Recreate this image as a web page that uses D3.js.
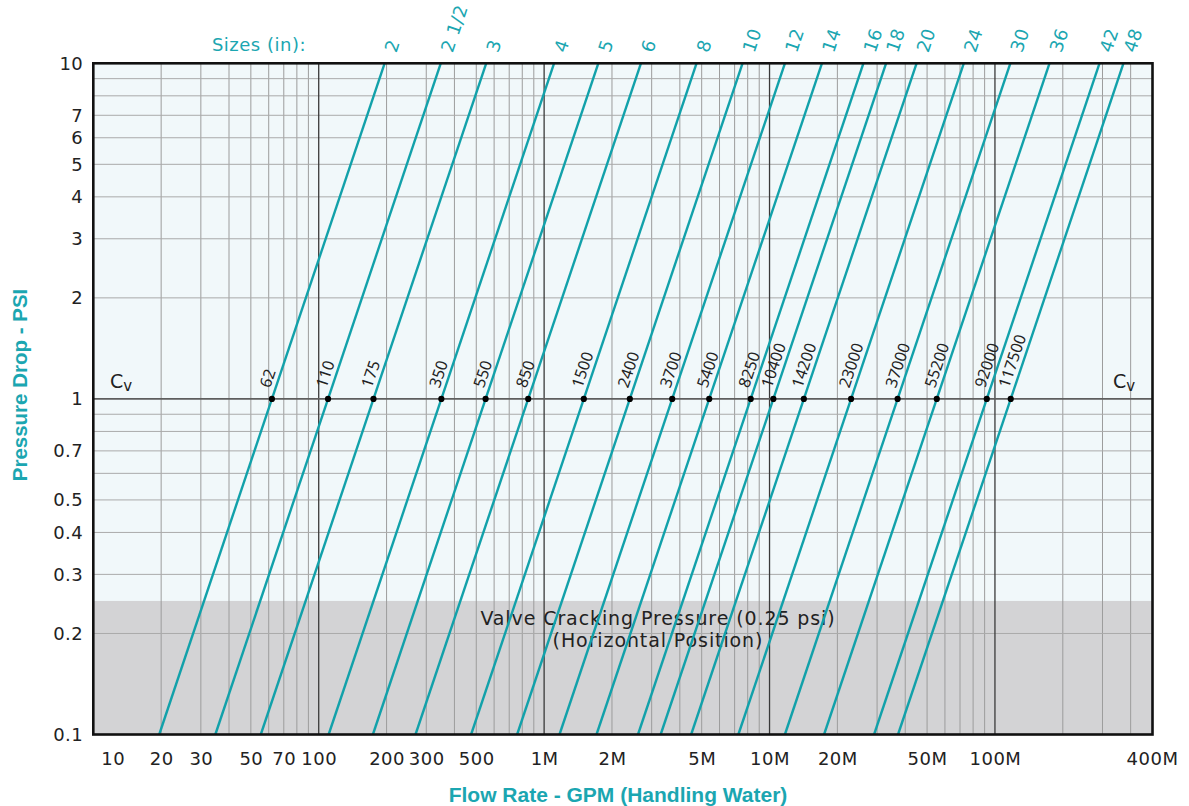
<!DOCTYPE html>
<html>
<head>
<meta charset="utf-8">
<script src="https://cdn.jsdelivr.net/npm/d3@7"></script>
<style>
  html, body { margin: 0; padding: 0; background: #ffffff; }
  svg { display: block; }
</style>
</head>
<body>
<svg id="chart" width="1189" height="806"></svg>
<script>
// Valve sizes (inches) and their flow coefficients (Cv)
const sizes = ["2", "2 1/2", "3", "4", "5", "6", "8", "10", "12", "14", "16", "18", "20", "24", "30", "36", "42", "48"];
const cvValues = [62, 110, 175, 350, 550, 850, 1500, 2400, 3700, 5400, 8250, 10400, 14200, 23000, 37000, 55200, 92000, 117500];

// Axis ticks
const xTickValues = [10, 20, 30, 50, 70, 100, 200, 300, 500, 1000, 2000, 5000, 10000, 20000, 50000, 100000, 400000];
const xTickLabels = ["10", "20", "30", "50", "70", "100", "200", "300", "500", "1M", "2M", "5M", "10M", "20M", "50M", "100M", "400M"];
const yTickValues = [0.1, 0.2, 0.3, 0.4, 0.5, 0.7, 1, 2, 3, 4, 5, 6, 7, 10];

// Flow / pressure ranges
const flowDomain = [10, 500000];
const pressureDomain = [0.1, 10];
const crackingPressure = 0.25;
const cvPressure = 1;

const TEAL = "#12a1aa";
const TEXT_TEAL = "#1ba6b1";
const LABEL_FONT = "'DejaVu Sans', sans-serif";

const svg = d3.select("#chart");
const plotLeft = 93.3, plotRight = 1152.5, plotTop = 63.3, plotBottom = 734.5;

const x = d3.scaleLog().domain(flowDomain).range([plotLeft, plotRight]);
const y = d3.scaleLog().domain(pressureDomain).range([plotBottom, plotTop]);

// Plot background and cracking-pressure band
svg.append("rect")
  .attr("x", plotLeft).attr("y", plotTop)
  .attr("width", plotRight - plotLeft).attr("height", plotBottom - plotTop)
  .attr("fill", "#f1f8fa");

svg.append("rect")
  .attr("x", plotLeft).attr("y", y(crackingPressure))
  .attr("width", plotRight - plotLeft).attr("height", y(pressureDomain[0]) - y(crackingPressure))
  .attr("fill", "#d3d3d5");

// Grid lines
const grid = svg.append("g");
const vMinor = [], vMajor = [];
for (let p = 10; p < flowDomain[1]; p *= 10) {
  for (let m = 1; m <= 9; m++) {
    const v = p * m;
    if (v <= flowDomain[0] || v >= flowDomain[1]) continue;
    (m === 1 ? vMajor : vMinor).push(v);
  }
}
grid.selectAll(".vminor").data(vMinor).join("line")
  .attr("x1", d => x(d)).attr("x2", d => x(d))
  .attr("y1", plotTop).attr("y2", plotBottom)
  .attr("stroke", "#9c9c9c").attr("stroke-width", 1);

const hMinor = [];
for (const p of [0.1, 1]) {
  for (let m = 2; m <= 9; m++) hMinor.push(p * m);
}
grid.selectAll(".hminor").data(hMinor).join("line")
  .attr("x1", plotLeft).attr("x2", plotRight)
  .attr("y1", d => y(d)).attr("y2", d => y(d))
  .attr("stroke", "#aaaaaa").attr("stroke-width", 1);

grid.selectAll(".vmajor").data(vMajor).join("line")
  .attr("x1", d => x(d)).attr("x2", d => x(d))
  .attr("y1", plotTop).attr("y2", plotBottom)
  .attr("stroke", "#3a3a3a").attr("stroke-width", 1.3);

grid.append("line")
  .attr("x1", plotLeft).attr("x2", plotRight)
  .attr("y1", y(cvPressure)).attr("y2", y(cvPressure))
  .attr("stroke", "#5e5e5e").attr("stroke-width", 1.6);

// Cracking pressure caption
const caption = svg.append("g")
  .attr("font-family", LABEL_FONT).attr("font-size", 19)
  .attr("letter-spacing", "0.9px").attr("fill", "#222")
  .attr("text-anchor", "middle");
caption.append("text").attr("x", 658).attr("y", 625)
  .text(`Valve Cracking Pressure (${crackingPressure} psi)`);
caption.append("text").attr("x", 658).attr("y", 647)
  .text("(Horizontal Position)");

// Pressure drop lines: P = (Q / Cv)^2
const line = d3.line().x(d => x(d[0])).y(d => y(d[1]));
const series = cvValues.map((cv, i) => ({
  cv, size: sizes[i],
  pts: pressureDomain.map(p => [cv * Math.sqrt(p), p])
}));

svg.append("g").selectAll("path").data(series).join("path")
  .attr("d", d => line(d.pts))
  .attr("fill", "none")
  .attr("stroke", TEAL)
  .attr("stroke-width", 2.4);

// Angle of the lines on screen, used to tilt the labels
const dxs = x(cvValues[0] * Math.sqrt(10)) - x(cvValues[0]);
const dys = y(1) - y(10);
const angle = Math.atan2(dys, dxs) * 180 / Math.PI;

// Cv markers and labels
svg.append("g").selectAll("circle").data(series).join("circle")
  .attr("cx", d => x(d.cv)).attr("cy", y(cvPressure))
  .attr("r", 3.1).attr("fill", "#000");

svg.append("g").selectAll("text").data(series).join("text")
  .attr("transform", d => `translate(${x(d.cv)},${y(cvPressure)}) rotate(${-angle})`)
  .attr("x", 9).attr("y", -5)
  .attr("font-family", "'Noto Sans', sans-serif")
  .attr("font-size", 16)
  .attr("fill", "#222")
  .text(d => d.cv);

// Size labels above the top ends of the lines
svg.append("g").selectAll("text").data(series).join("text")
  .attr("transform", d => `translate(${x(d.pts[1][0])},${y(pressureDomain[1])}) rotate(${-angle})`)
  .attr("x", 13).attr("y", 8)
  .attr("font-family", LABEL_FONT)
  .attr("font-size", 18)
  .attr("letter-spacing", "0.5px")
  .attr("fill", TEXT_TEAL)
  .text(d => d.size);

svg.append("text")
  .attr("x", 306).attr("y", 51)
  .attr("text-anchor", "end")
  .attr("font-family", LABEL_FONT).attr("font-size", 18)
  .attr("letter-spacing", "0.5px")
  .attr("fill", TEXT_TEAL)
  .text("Sizes (in):");

// Cv markers on both sides of the reference line
function cvMark(px) {
  const t = svg.append("text")
    .attr("x", px).attr("y", 388)
    .attr("font-family", LABEL_FONT).attr("fill", "#222")
    .attr("font-size", 19);
  t.append("tspan").text("C");
  t.append("tspan").attr("font-size", 15).attr("dy", 3).text("v");
}
cvMark(110);
cvMark(1113);

// Border
svg.append("rect")
  .attr("x", plotLeft).attr("y", plotTop)
  .attr("width", plotRight - plotLeft).attr("height", plotBottom - plotTop)
  .attr("fill", "none").attr("stroke", "#111").attr("stroke-width", 2.6);

// Axes
const xAxis = svg.append("g")
  .attr("transform", `translate(0,${plotBottom})`)
  .call(d3.axisBottom(x).tickValues(xTickValues)
    .tickFormat((d, i) => xTickLabels[i]).tickSize(0).tickPadding(17.7));
xAxis.select(".domain").remove();
xAxis.selectAll("text")
  .attr("font-family", LABEL_FONT).attr("font-size", 18)
  .attr("letter-spacing", "0.5px").attr("fill", "#222");
// edge labels sit inside the frame corners
const xTicks = xAxis.selectAll(".tick");
xTicks.filter((d, i) => i === 0).attr("transform", `translate(${x(xTickValues[0]) + 20},0)`);
xTicks.filter((d, i) => i === xTickValues.length - 1).attr("transform", `translate(${x.range()[1]},0)`);

const yAxis = svg.append("g")
  .attr("transform", `translate(${plotLeft},0)`)
  .call(d3.axisLeft(y).tickValues(yTickValues)
    .tickFormat(d3.format("~g")).tickSize(0).tickPadding(10));
yAxis.select(".domain").remove();
yAxis.selectAll("text")
  .attr("font-family", LABEL_FONT).attr("font-size", 18)
  .attr("letter-spacing", "0.5px").attr("fill", "#222");

// Axis titles
svg.append("text")
  .attr("x", 618).attr("y", 802)
  .attr("text-anchor", "middle")
  .attr("font-family", "'Liberation Sans', Arial, sans-serif")
  .attr("font-weight", "bold").attr("font-size", 21)
  .attr("fill", TEXT_TEAL)
  .text("Flow Rate - GPM (Handling Water)");

svg.append("text")
  .attr("transform", "translate(27,385) rotate(-90)")
  .attr("text-anchor", "middle")
  .attr("font-family", "'Liberation Sans', Arial, sans-serif")
  .attr("font-weight", "bold").attr("font-size", 20.5)
  .attr("fill", TEXT_TEAL)
  .text("Pressure Drop - PSI");
</script>
</body>
</html>
